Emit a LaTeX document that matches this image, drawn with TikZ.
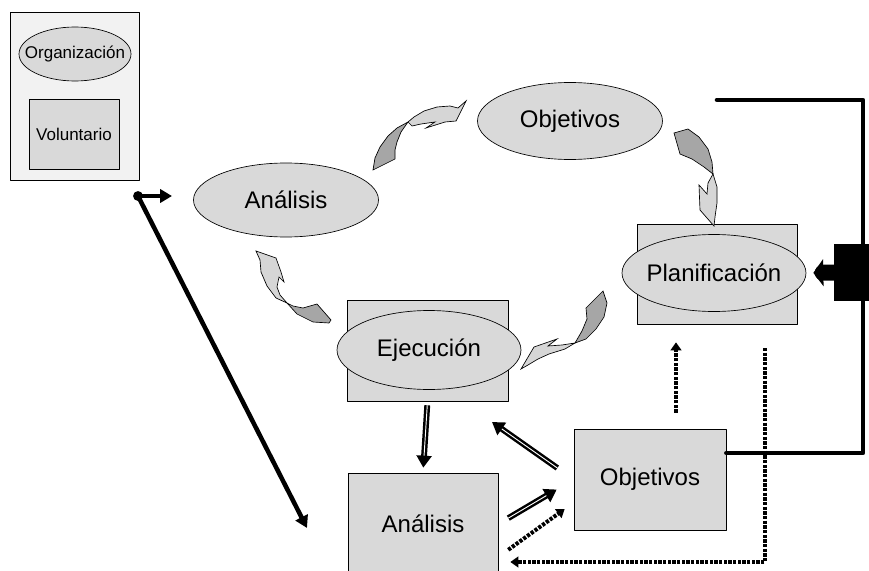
\documentclass[tikz,border=0pt]{standalone}
\usepackage{fontspec}
\setmainfont{Liberation Sans}
\usetikzlibrary{shapes.geometric,arrows.meta,calc}
\definecolor{relleno}{HTML}{D9D9D9}
\definecolor{fondo}{HTML}{F2F2F2}
\definecolor{oscuro}{HTML}{A6A6A6}
\definecolor{claro}{HTML}{D6D6D6}
\newcommand{\grande}{\fontsize{18}{21}\selectfont}
\newcommand{\chica}{\fontsize{12.75}{15}\selectfont}

\begin{document}
\begin{tikzpicture}[line cap=round,line join=round,x=0.75pt,y=-0.75pt,
  elipse/.style={ellipse, draw, fill=relleno, line width=0.5pt, inner sep=0pt, font=\grande},
  caja/.style={rectangle, draw, fill=relleno, line width=0.5pt, inner sep=0pt, font=\grande},
  dbl/.style={line width=4.4pt, line cap=butt, shorten >=#1, -{Triangle[length=9pt,width=11pt]},
    postaction={draw=white, line width=0.7pt, -, shorten >=#1+9pt}},
  dbl/.default=0pt,
  punteada/.style={line width=3pt, line cap=butt, dash pattern=on 2.4pt off 1.1pt, -{Triangle[length=6pt,width=8pt]}},
  gruesa/.style={line width=3.4pt},
  flecha/.style={line width=3.4pt, -{Triangle[length=9pt,width=10pt]}},
  cinta/.style={draw, line width=0.5pt, line join=miter}]
\useasboundingbox (0,0) rectangle (869,571);
\clip (0,0) rectangle (869,571);

% leyenda
\node[rectangle, draw, fill=fondo, line width=0.5pt, minimum width=96.75pt, minimum height=126pt] (leyenda) at (74.5,96) {};
\node[elipse, font=\chica, inner xsep=-8pt, minimum width=84pt, minimum height=40.5pt] (org) at (75,54) {Organización};
\node[caja, font=\chica, minimum width=67.5pt, minimum height=52.5pt] (vol) at (74,134) {Voluntario};

% ciclo
\node[elipse, minimum width=138.75pt, minimum height=55.5pt] (anal) at (286,200) {Análisis};
\node[elipse, minimum width=138.75pt, minimum height=57.75pt] (obj) at (570,121) {Objetivos};
\node[caja, minimum width=120pt, minimum height=75pt] (planbox) at (717,274) {};
\node[elipse, inner xsep=-2pt, minimum width=138pt, minimum height=57.75pt] (planelip) at (714,273) {Planificación};
\node[caja, minimum width=120.75pt, minimum height=75.75pt] (ejecbox) at (427.5,350.5) {};
\node[elipse, minimum width=138pt, minimum height=59.25pt] (ejecelip) at (429,350) {Ejecución};

% abajo
\node[caja, minimum width=112.5pt, minimum height=76.5pt] (anal2) at (423,524) {Análisis};
\node[caja, minimum width=114pt, minimum height=75.75pt] (obj2) at (650,479.5) {Objetivos};

% cintas curvas
\fill[cinta, fill=oscuro] (373,170) -- (375,158) -- (380,147) -- (388,136) -- (397,128) -- (408,122) -- (401,132) -- (397,142) -- (395,150) -- (395,159) -- cycle;
\fill[cinta, fill=claro] (408,122) -- (414,117) -- (424,111) -- (437,107) -- (450,106) -- (458,108) -- (466,101) -- (456,121) -- (445,122) -- (426,128) -- (435,122) -- (421,124) -- (412,126) -- cycle;
\fill[cinta, fill=oscuro] (674,133) -- (688,129) -- (699,137) -- (708,149) -- (712,162) -- (713,174) -- (704,167) -- (692,159) -- (680,154) -- cycle;
\fill[cinta, fill=claro] (713,174) -- (717,187) -- (717,203) -- (715,217) -- (714,226) -- (700,210) -- (699,185) -- (707,194) -- (708,183) -- cycle;
\fill[cinta, fill=oscuro] (603,291) -- (607,303) -- (604,317) -- (596,329) -- (586,339) -- (575,343) -- (582,331) -- (587,319) -- (586,308) -- cycle;
\fill[cinta, fill=claro] (575,343) -- (565,349) -- (549,354) -- (538,359) -- (528,365) -- (521,369) -- (534,347) -- (557,339) -- (548,346) -- (562,345) -- cycle;
\fill[cinta, fill=claro] (256,251) -- (276,258) -- (281,272) -- (284,282) -- (279,277) -- (277,287) -- (280,295) -- (287,303) -- (276,298) -- (267,286) -- (261,272) -- (260,260) -- cycle;
\fill[cinta, fill=oscuro] (287,303) -- (297,314) -- (313,322) -- (329,323) -- (331,320) -- (317,304) -- (303,308) -- (293,306) -- cycle;

% punto y flechas largas
\coordinate (dot) at (138,196);
\coordinate (p1) at (172,196);
\coordinate (p2) at (307,528);
\draw[flecha] (dot) -- (p1);
\draw[flecha] (dot) -- (p2);
\fill (dot) circle (3.7pt);

% flechas dobles
\coordinate (e1) at (492,422);
\draw[dbl=3.75pt, shorten <=3pt] (ejecbox.south) -- (anal2.north);
\draw[dbl, shorten <=15pt] (obj2.west) -- (e1);
\draw[dbl=14.8pt, shorten <=8.7pt] (anal2.east) -- (obj2.west);

% punteadas
\coordinate (q) at (676,0);
\coordinate (r1) at (765,348);
\coordinate (r2) at (765,562);
\draw[punteada, shorten <=9.2pt, shorten >=8.3pt] ([yshift=-24.75pt]anal2.east) -- ([yshift=-17.25pt]obj2.west);
\draw[punteada, shorten <=12pt, shorten >=13.5pt] (obj2.north -| q) -- (planbox.south -| q);
\draw[punteada, shorten >=9pt] (r1) -- (r2) -- (anal2.east |- r2);

% linea gruesa y tope
\coordinate (t1) at (717,100);
\coordinate (t2) at (863,453);
\draw[gruesa] (t1) -| (t2) -- (obj2.east |- t2);
\node[rectangle, fill=black, minimum width=30.75pt, minimum height=42.75pt, inner sep=0pt] (tope) at (854.5,272.5) {};
\draw[line width=12pt, shorten >=5.25pt, -{Triangle[length=7.5pt,width=20pt]}] (tope.west) -- (planelip.east);
\end{tikzpicture}
\end{document}
